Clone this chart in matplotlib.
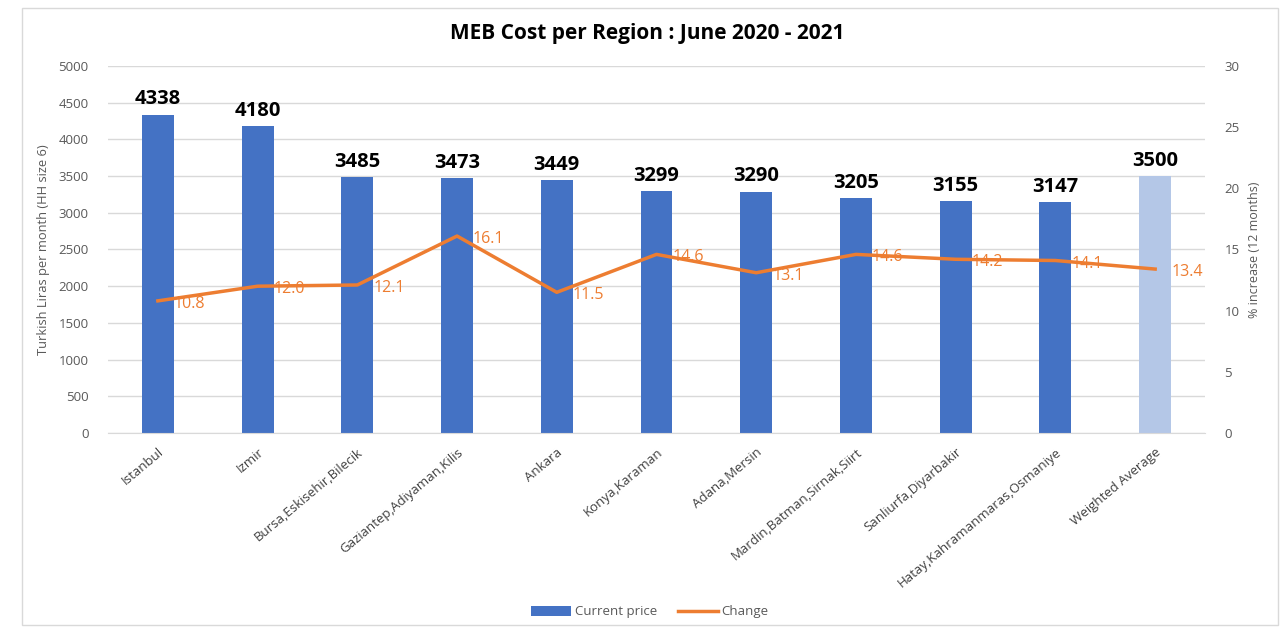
import matplotlib.pyplot as plt
import numpy as np

regions = ['Istanbul', 'Izmir', 'Bursa,Eskisehir,Bilecik', 'Gaziantep,Adiyaman,Kilis',
           'Ankara', 'Konya,Karaman', 'Adana,Mersin', 'Mardin,Batman,Sirnak,Siirt',
           'Sanliurfa,Diyarbakir', 'Hatay,Kahramanmaras,Osmaniye', 'Weighted Average']
current_price = [4338, 4180, 3485, 3473, 3449, 3299, 3290, 3205, 3155, 3147, 3500]
change = [10.8, 12.0, 12.1, 16.1, 11.5, 14.6, 13.1, 14.6, 14.2, 14.1, 13.4]

plt.rcParams['font.family'] = ['Open Sans', 'DejaVu Sans']

fig = plt.figure(figsize=(12.87, 6.33), dpi=100)
ax = fig.add_axes([108/1287, 1-433/633, (1205-108)/1287, (433-66)/633])
ax2 = ax.twinx()

x = np.arange(len(regions))
colors = ['#4472C4'] * (len(regions) - 1) + ['#B4C7E7']
bars = ax.bar(x, current_price, width=0.32, color=colors, zorder=2)
for xi, v in zip(x, current_price):
    ax.text(xi, v + 70, str(v), ha='center', va='bottom', fontsize=14.5, fontweight='bold', color='black')

ax.set_ylim(0, 5000)
ax.set_yticks(range(0, 5001, 500))
ax.set_xlim(-0.5, len(regions) - 0.5)
ax.set_xticks(x)
ax.set_xticklabels(regions, rotation=40, ha='right', rotation_mode='anchor', fontsize=9.5, color='#404040')
ax.tick_params(axis='x', length=0, pad=9)
ax.tick_params(axis='y', length=0, labelsize=9.5, labelcolor='#595959', pad=14)
ax.grid(axis='y', color='#D9D9D9', linewidth=1, zorder=0)
ax.set_axisbelow(True)
for s in ax.spines.values():
    s.set_visible(False)
ax.spines['bottom'].set_visible(True)
ax.spines['bottom'].set_color('#D9D9D9')
ax.set_ylabel('Turkish Liras per month (HH size 6)', fontsize=9.3, color='#595959', labelpad=6)

line, = ax2.plot(x, change, color='#ED7D31', linewidth=2.5, zorder=3)
for xi, v in zip(x, change):
    ax2.text(xi + 0.16, v - 0.25, f'{v:.1f}', ha='left', va='center', fontsize=11.5, color='#ED7D31')
ax2.set_ylim(0, 30)
ax2.set_yticks(range(0, 31, 5))
ax2.tick_params(axis='y', length=0, labelsize=9.5, labelcolor='#595959', pad=14)
for s in ax2.spines.values():
    s.set_visible(False)
ax2.set_ylabel('% increase (12 months)', fontsize=9, color='#595959', labelpad=6)

fig.text(0.503, 1-33/633, 'MEB Cost per Region : June 2020 - 2021', ha='center', va='center',
         fontsize=15, fontweight='bold', color='black')

fig.legend([bars, line], ['Current price', 'Change'], loc='center', bbox_to_anchor=(0.505, 1-612/633),
           ncol=2, frameon=False, fontsize=9.5, labelcolor='#595959', handlelength=3.0,
           handletextpad=0.3, columnspacing=1.6)

border = plt.Rectangle((22/1287, 1-625/633), (1278-22)/1287, (625-8)/633, transform=fig.transFigure,
                       fill=False, edgecolor='#D9D9D9', linewidth=1)
fig.patches.append(border)

fig.savefig('out.png', dpi=100)
